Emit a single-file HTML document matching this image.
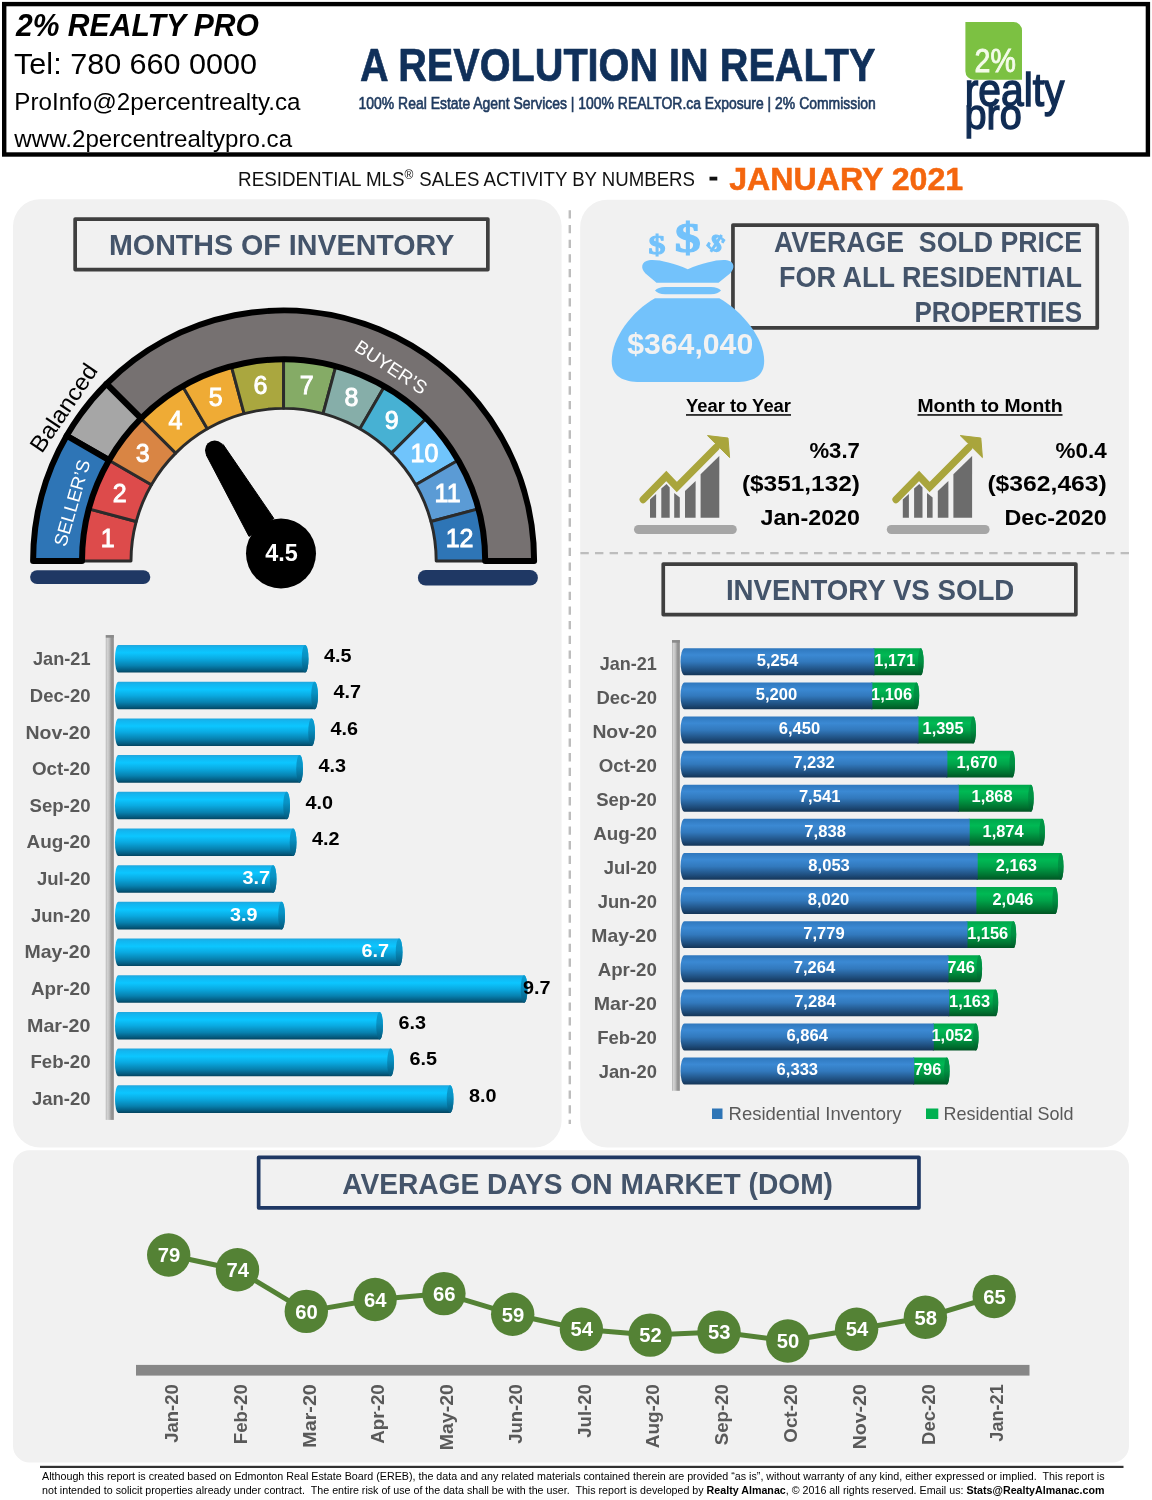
<!DOCTYPE html>
<html lang="en"><head><meta charset="utf-8">
<title>2% Realty Pro - Residential MLS Sales Activity - January 2021</title>
<style>
html,body{margin:0;padding:0;background:#fff}
#page{position:relative;width:1152px;height:1500px;overflow:hidden;background:#fff}
svg{display:block;will-change:transform;font-family:"Liberation Sans", "DejaVu Sans", sans-serif}
text{white-space:pre}
</style></head><body>
<div id="page">
<svg width="1152" height="1500" viewBox="0 0 1152 1500" role="img" aria-label="Residential MLS sales activity infographic">
<defs>
<linearGradient id="gCy" x1="0" y1="0" x2="0" y2="1"><stop offset="0" stop-color="#22a6dc"/><stop offset="0.09" stop-color="#12b6f0"/><stop offset="0.28" stop-color="#0cc6ff"/><stop offset="0.5" stop-color="#0aaae1"/><stop offset="0.75" stop-color="#0781af"/><stop offset="0.92" stop-color="#045a7e"/><stop offset="1" stop-color="#03445f"/></linearGradient>
<linearGradient id="gCyCap" x1="0" y1="0" x2="0" y2="1"><stop offset="0" stop-color="#0a9fd4"/><stop offset="0.4" stop-color="#0892c4"/><stop offset="1" stop-color="#04587b"/></linearGradient>
<linearGradient id="gBl" x1="0" y1="0" x2="0" y2="1"><stop offset="0" stop-color="#2f77bd"/><stop offset="0.25" stop-color="#3b89d3"/><stop offset="0.5" stop-color="#3279bd"/><stop offset="0.85" stop-color="#1d4a78"/><stop offset="1" stop-color="#153557"/></linearGradient>
<linearGradient id="gGr" x1="0" y1="0" x2="0" y2="1"><stop offset="0" stop-color="#00a64b"/><stop offset="0.25" stop-color="#00b954"/><stop offset="0.5" stop-color="#00a349"/><stop offset="0.85" stop-color="#00702f"/><stop offset="1" stop-color="#005423"/></linearGradient>
<linearGradient id="gGrCap" x1="0" y1="0" x2="0" y2="1"><stop offset="0" stop-color="#009a48"/><stop offset="0.5" stop-color="#008f42"/><stop offset="1" stop-color="#005a28"/></linearGradient>
<linearGradient id="gAx" x1="0" y1="0" x2="1" y2="0"><stop offset="0" stop-color="#a6a6a6"/><stop offset="0.14" stop-color="#d6d6d6"/><stop offset="0.42" stop-color="#c2c2c2"/><stop offset="0.68" stop-color="#969696"/><stop offset="1" stop-color="#8a8a8a"/></linearGradient>
</defs>
<rect x="4.2" y="4.1" width="1143.7" height="150.4" fill="#fff" stroke="#000" stroke-width="4.4"/>
<text x="16.00" y="36.10" font-size="30.5" fill="#000" font-weight="bold" textLength="243.00" lengthAdjust="spacingAndGlyphs" style="font-style:italic">2% REALTY PRO</text>
<text x="14.10" y="73.70" font-size="29" fill="#000" textLength="243.00" lengthAdjust="spacingAndGlyphs">Tel: 780 660 0000</text>
<text x="14.30" y="110.00" font-size="23.9" fill="#000" textLength="286.20" lengthAdjust="spacingAndGlyphs">ProInfo@2percentrealty.ca</text>
<text x="14.30" y="147.10" font-size="23.9" fill="#000" textLength="277.80" lengthAdjust="spacingAndGlyphs">www.2percentrealtypro.ca</text>
<text x="360.00" y="80.70" font-size="45.3" fill="#10305a" font-weight="bold" textLength="515.40" lengthAdjust="spacingAndGlyphs" stroke="#10305a" stroke-width="0.7" stroke-linejoin="round">A REVOLUTION IN REALTY</text>
<text x="358.60" y="109.20" font-size="16.6" fill="#1f3a5f" textLength="517.20" lengthAdjust="spacingAndGlyphs" stroke="#1f3a5f" stroke-width="0.65">100% Real Estate Agent Services | 100% REALTOR.ca Exposure | 2% Commission</text>
<path d="M965.4,22 H1013.5 A8.5,8.5 0 0 1 1022,30.5 V79.7 H973.9 A8.5,8.5 0 0 1 965.4,71.2 Z" fill="#7cc142"/>
<text x="974.50" y="71.80" font-size="32.5" fill="#f4fbe9" textLength="41.30" lengthAdjust="spacingAndGlyphs" stroke="#f4fbe9" stroke-width="0.9">2%</text>
<text transform="translate(964.8,106.4) scale(1,1.14)" font-size="40" fill="#102c54" stroke="#102c54" stroke-width="1.25" textLength="99.6" lengthAdjust="spacingAndGlyphs">realty</text>
<text transform="translate(964.6,129.2) scale(1,1.07)" font-size="39" fill="#102c54" stroke="#102c54" stroke-width="1.25" textLength="57.2" lengthAdjust="spacingAndGlyphs">pro</text>
<text x="238.10" y="185.60" font-size="20.6" fill="#111" textLength="166.50" lengthAdjust="spacingAndGlyphs">RESIDENTIAL MLS</text>
<text x="404.60" y="178.60" font-size="12" fill="#111">®</text>
<text x="419.30" y="185.60" font-size="20.6" fill="#111" textLength="275.70" lengthAdjust="spacingAndGlyphs">SALES ACTIVITY BY NUMBERS</text>
<rect x="709.5" y="176.7" width="7.8" height="3.8" fill="#111"/>
<text x="729.20" y="189.70" font-size="30.8" fill="#f4660e" font-weight="bold" textLength="234.00" lengthAdjust="spacingAndGlyphs" stroke="#f4660e" stroke-width="0.5">JANUARY 2021</text>
<rect x="13" y="199.3" width="548.6" height="948.2" rx="27" ry="27" fill="#f1f1f1"/>
<rect x="580.2" y="199.8" width="548.7" height="947.7" rx="27" ry="27" fill="#f1f1f1"/>
<rect x="13" y="1150.3" width="1116" height="312.1" rx="16.5" ry="16.5" fill="#f1f1f1"/>
<line x1="569.8" y1="210.3" x2="569.8" y2="1124" stroke="#bdbdbd" stroke-width="2.4" stroke-dasharray="8.3 6.37"/>
<line x1="580.4" y1="553.2" x2="1129" y2="553.2" stroke="#bdbdbd" stroke-width="2.3" stroke-dasharray="8.4 6.2"/>
<rect x="75.15" y="219.05" width="412.7" height="50.5" fill="none" stroke="#3f3f3f" stroke-width="3.7" stroke-linejoin="round"/>
<text x="109.00" y="254.90" font-size="29.2" fill="#44546a" font-weight="bold" textLength="345.30" lengthAdjust="spacingAndGlyphs">MONTHS OF INVENTORY</text>
<rect x="732.95" y="225.05" width="364.3" height="102.9" fill="none" stroke="#3f3f3f" stroke-width="3.7" stroke-linejoin="round"/>
<text x="1082.00" y="252.10" font-size="28.8" fill="#44546a" font-weight="bold" text-anchor="end" textLength="308.00" lengthAdjust="spacingAndGlyphs">AVERAGE  SOLD PRICE</text>
<text x="1082.00" y="286.80" font-size="28.7" fill="#44546a" font-weight="bold" text-anchor="end" textLength="303.00" lengthAdjust="spacingAndGlyphs">FOR ALL RESIDENTIAL</text>
<text x="1082.00" y="321.70" font-size="28.7" fill="#44546a" font-weight="bold" text-anchor="end" textLength="167.60" lengthAdjust="spacingAndGlyphs">PROPERTIES</text>
<rect x="663.25" y="564.05" width="412.6" height="50.5" fill="none" stroke="#3f3f3f" stroke-width="3.7" stroke-linejoin="round"/>
<text x="725.90" y="599.90" font-size="29.2" fill="#44546a" font-weight="bold" textLength="288.40" lengthAdjust="spacingAndGlyphs">INVENTORY VS SOLD</text>
<rect x="258.65" y="1157.35" width="660.3" height="50.5" fill="none" stroke="#1f3864" stroke-width="3.7" stroke-linejoin="round"/>
<text x="342.20" y="1193.80" font-size="29.2" fill="#44546a" font-weight="bold" textLength="490.80" lengthAdjust="spacingAndGlyphs">AVERAGE DAYS ON MARKET (DOM)</text>
<g stroke="#2b2b2b" stroke-width="2.9" stroke-linejoin="round">
<path d="M82.00,561.00 A201.6,201.6 0 0 1 88.87,508.82 L136.20,521.50 A152.6,152.6 0 0 0 131.00,561.00 Z" fill="#dd4b4b"/>
<path d="M88.87,508.82 A201.6,201.6 0 0 1 109.01,460.20 L151.44,484.70 A152.6,152.6 0 0 0 136.20,521.50 Z" fill="#dd4b4b"/>
<path d="M109.01,460.20 A201.6,201.6 0 0 1 141.05,418.45 L175.70,453.10 A152.6,152.6 0 0 0 151.44,484.70 Z" fill="#d98544"/>
<path d="M141.05,418.45 A201.6,201.6 0 0 1 182.80,386.41 L207.30,428.84 A152.6,152.6 0 0 0 175.70,453.10 Z" fill="#efab35"/>
<path d="M182.80,386.41 A201.6,201.6 0 0 1 231.42,366.27 L244.10,413.60 A152.6,152.6 0 0 0 207.30,428.84 Z" fill="#efab35"/>
<path d="M231.42,366.27 A201.6,201.6 0 0 1 283.60,359.40 L283.60,408.40 A152.6,152.6 0 0 0 244.10,413.60 Z" fill="#aaa73f"/>
<path d="M283.60,359.40 A201.6,201.6 0 0 1 335.78,366.27 L323.10,413.60 A152.6,152.6 0 0 0 283.60,408.40 Z" fill="#85ab66"/>
<path d="M335.78,366.27 A201.6,201.6 0 0 1 384.40,386.41 L359.90,428.84 A152.6,152.6 0 0 0 323.10,413.60 Z" fill="#86aea9"/>
<path d="M384.40,386.41 A201.6,201.6 0 0 1 426.15,418.45 L391.50,453.10 A152.6,152.6 0 0 0 359.90,428.84 Z" fill="#47b1d3"/>
<path d="M426.15,418.45 A201.6,201.6 0 0 1 458.19,460.20 L415.76,484.70 A152.6,152.6 0 0 0 391.50,453.10 Z" fill="#70c4fb"/>
<path d="M458.19,460.20 A201.6,201.6 0 0 1 478.33,508.82 L431.00,521.50 A152.6,152.6 0 0 0 415.76,484.70 Z" fill="#5b9bd5"/>
<path d="M478.33,508.82 A201.6,201.6 0 0 1 485.20,561.00 L436.20,561.00 A152.6,152.6 0 0 0 431.00,521.50 Z" fill="#2e75b6"/>
</g>
<g stroke="#000" stroke-width="6" stroke-linejoin="round">
<path d="M106.47,383.87 A250.5,250.5 0 0 1 534.10,561.00 L485.20,561.00 A201.6,201.6 0 0 0 141.05,418.45 Z" fill="#767171"/>
<path d="M66.66,435.75 A250.5,250.5 0 0 1 106.47,383.87 L141.05,418.45 A201.6,201.6 0 0 0 109.01,460.20 Z" fill="#a6a6a6"/>
<path d="M33.10,561.00 A250.5,250.5 0 0 1 66.66,435.75 L109.01,460.20 A201.6,201.6 0 0 0 82.00,561.00 Z" fill="#2e75b6"/>
</g>
<g font-size="25" fill="#fff" stroke="#fff" stroke-width="0.9" text-anchor="middle">
<text x="107.6" y="547.0">1</text>
<text x="119.6" y="502.3">2</text>
<text x="142.8" y="462.1">3</text>
<text x="175.5" y="429.4">4</text>
<text x="215.7" y="406.2">5</text>
<text x="260.4" y="394.2">6</text>
<text x="306.8" y="394.2">7</text>
<text x="351.5" y="406.2">8</text>
<text x="391.7" y="429.4">9</text>
<text x="424.4" y="462.1">10</text>
<text x="447.6" y="502.3">11</text>
<text x="459.6" y="547.0">12</text>
</g>
<text transform="translate(78.2,504.8) rotate(-73.9)" font-size="18.4" fill="#fff" text-anchor="middle" textLength="89" lengthAdjust="spacingAndGlyphs">SELLER’S</text>
<text transform="translate(70.2,412.3) rotate(-55.8)" font-size="23.3" fill="#000" text-anchor="middle" textLength="101.5" lengthAdjust="spacingAndGlyphs">Balanced</text>
<text transform="translate(387.6,372.6) rotate(33.3)" font-size="18.8" fill="#fff" text-anchor="middle" textLength="82" lengthAdjust="spacingAndGlyphs">BUYER’S</text>
<path d="M206.3,454.9 L223.2,444.6 L273.8,518.4 L249.0,536.4 Z" fill="#000" stroke="#000" stroke-width="1" stroke-linejoin="round"/>
<circle cx="214.7" cy="450.2" r="9.7" fill="#000"/>
<circle cx="281" cy="553.5" r="35" fill="#000"/>
<text x="281.50" y="560.80" font-size="24.4" fill="#fff" font-weight="bold" text-anchor="middle" textLength="32.60" lengthAdjust="spacingAndGlyphs">4.5</text>
<rect x="30.1" y="570.2" width="120.2" height="13.8" rx="6.9" fill="#1f3864"/>
<rect x="417.9" y="570" width="120" height="15.6" rx="7.8" fill="#1f3864"/>
<g fill="#73c2fb">
<path d="M655,298.2 L719.3,298.2 C742,311 764.2,338 764.2,361 C764.2,377 752,382 736,382 L640,382 C624,382 611.7,377 611.7,361 C611.7,338 632,311 655,298.2 Z"/>
<path d="M655,290.6 Q658,287 665,287 L711,287 Q718,287 721,290.6 Q718,294.3 711,294.3 L665,294.3 Q658,294.3 655,290.6 Z"/>
<path d="M687.8,269.2 C672,262.5 657,259 649,260.3 C641.5,261.6 640,268 645.5,273.5 L656.5,282.7 L718.5,282.7 L730,273.5 C735.5,268 734.4,261.6 727,260.3 C719,259 704,262.5 687.8,269.2 Z"/>
</g>
<g fill="#73c2fb" stroke="#73c2fb" font-weight="bold" text-anchor="middle" font-family='"Liberation Serif", "DejaVu Serif", serif'>
<text x="687.7" y="252.4" font-size="43" stroke-width="1.2" textLength="26" lengthAdjust="spacingAndGlyphs">$</text>
<text x="657.1" y="254.4" font-size="27" stroke-width="1.0" textLength="17" lengthAdjust="spacingAndGlyphs">$</text>
<text transform="translate(711.9,249.6) rotate(33)" font-size="23.5" stroke-width="1.0" textLength="15.5" lengthAdjust="spacingAndGlyphs">$</text>
</g>
<text x="690.20" y="354.10" font-size="28.6" fill="#f2f2f2" font-weight="bold" text-anchor="middle" textLength="126.00" lengthAdjust="spacingAndGlyphs">$364,040</text>
<g transform="translate(0,0)">
<g fill="#6c6c6c">
<path d="M650,499.5 L656.1,494 V517.7 H650 Z"/>
<path d="M661.3,488.5 L666.5,484 L669.7,487.5 V517.7 H661.3 Z"/>
<path d="M674.2,493 L679.8,497.5 V517.7 H674.2 Z"/>
<path d="M685,491.1 L695.6,480.9 V517.7 H685 Z"/>
<path d="M700.6,474.2 L719.3,456.1 V517.7 H700.6 Z"/>
</g>
<path d="M643.2,499.6 L666.3,476 L676.8,487 L716,447.5" fill="none" stroke="#a9a53c" stroke-width="7.2" stroke-linejoin="miter" stroke-linecap="round"/>
<path d="M707.5,435.6 L728,438 L729.6,457.6 Z" fill="#a9a53c" stroke="#a9a53c" stroke-width="1" stroke-linejoin="round"/>
<rect x="634" y="525" width="102.8" height="9" rx="4.5" fill="#a6a6a6"/>
</g>
<g transform="translate(252.8,0)">
<g fill="#6c6c6c">
<path d="M650,499.5 L656.1,494 V517.7 H650 Z"/>
<path d="M661.3,488.5 L666.5,484 L669.7,487.5 V517.7 H661.3 Z"/>
<path d="M674.2,493 L679.8,497.5 V517.7 H674.2 Z"/>
<path d="M685,491.1 L695.6,480.9 V517.7 H685 Z"/>
<path d="M700.6,474.2 L719.3,456.1 V517.7 H700.6 Z"/>
</g>
<path d="M643.2,499.6 L666.3,476 L676.8,487 L716,447.5" fill="none" stroke="#a9a53c" stroke-width="7.2" stroke-linejoin="miter" stroke-linecap="round"/>
<path d="M707.5,435.6 L728,438 L729.6,457.6 Z" fill="#a9a53c" stroke="#a9a53c" stroke-width="1" stroke-linejoin="round"/>
<rect x="634" y="525" width="102.8" height="9" rx="4.5" fill="#a6a6a6"/>
</g>
<text x="686.00" y="411.50" font-size="18" fill="#000" font-weight="bold" textLength="105.00" lengthAdjust="spacingAndGlyphs">Year to Year</text>
<rect x="686" y="414.2" width="105" height="1.5" fill="#000"/>
<text x="917.50" y="411.50" font-size="18" fill="#000" font-weight="bold" textLength="145.00" lengthAdjust="spacingAndGlyphs">Month to Month</text>
<rect x="917.5" y="414.2" width="145" height="1.5" fill="#000"/>
<text x="859.90" y="457.70" font-size="21.6" fill="#000" font-weight="bold" text-anchor="end" textLength="50.50" lengthAdjust="spacingAndGlyphs">%3.7</text>
<text x="859.90" y="491.20" font-size="21.6" fill="#000" font-weight="bold" text-anchor="end" textLength="118.00" lengthAdjust="spacingAndGlyphs">($351,132)</text>
<text x="859.90" y="525.00" font-size="21.6" fill="#000" font-weight="bold" text-anchor="end" textLength="99.40" lengthAdjust="spacingAndGlyphs">Jan-2020</text>
<text x="1106.80" y="457.70" font-size="21.6" fill="#000" font-weight="bold" text-anchor="end" textLength="51.30" lengthAdjust="spacingAndGlyphs">%0.4</text>
<text x="1106.80" y="491.20" font-size="21.6" fill="#000" font-weight="bold" text-anchor="end" textLength="119.40" lengthAdjust="spacingAndGlyphs">($362,463)</text>
<text x="1106.80" y="525.00" font-size="21.6" fill="#000" font-weight="bold" text-anchor="end" textLength="102.40" lengthAdjust="spacingAndGlyphs">Dec-2020</text>
<rect x="105.8" y="635.1" width="8" height="484.8" fill="url(#gAx)"/>
<rect x="105.8" y="635.1" width="8" height="2.6" fill="#8a8a8a"/>
<path d="M118.4,645.00 H305.1 A3.4,13.8 0 0 1 305.1,672.60 H118.4 A3.4,13.8 0 0 1 118.4,645.00 Z" fill="url(#gCy)"/>
<ellipse cx="305.1" cy="658.80" rx="3.4" ry="13.8" fill="url(#gCyCap)"/>
<text x="90.50" y="665.30" font-size="18.6" fill="#595959" font-weight="bold" text-anchor="end" textLength="57.50" lengthAdjust="spacingAndGlyphs">Jan-21</text>
<text x="324.00" y="661.80" font-size="19" fill="#000" font-weight="bold" textLength="27.50" lengthAdjust="spacingAndGlyphs">4.5</text>
<path d="M118.4,681.69 H314.6 A3.4,13.8 0 0 1 314.6,709.29 H118.4 A3.4,13.8 0 0 1 118.4,681.69 Z" fill="url(#gCy)"/>
<ellipse cx="314.6" cy="695.49" rx="3.4" ry="13.8" fill="url(#gCyCap)"/>
<text x="90.50" y="701.92" font-size="18.6" fill="#595959" font-weight="bold" text-anchor="end" textLength="60.70" lengthAdjust="spacingAndGlyphs">Dec-20</text>
<text x="333.50" y="698.49" font-size="19" fill="#000" font-weight="bold" textLength="27.50" lengthAdjust="spacingAndGlyphs">4.7</text>
<path d="M118.4,718.38 H311.6 A3.4,13.8 0 0 1 311.6,745.98 H118.4 A3.4,13.8 0 0 1 118.4,718.38 Z" fill="url(#gCy)"/>
<ellipse cx="311.6" cy="732.18" rx="3.4" ry="13.8" fill="url(#gCyCap)"/>
<text x="90.50" y="738.54" font-size="18.6" fill="#595959" font-weight="bold" text-anchor="end" textLength="65.00" lengthAdjust="spacingAndGlyphs">Nov-20</text>
<text x="330.50" y="735.18" font-size="19" fill="#000" font-weight="bold" textLength="27.50" lengthAdjust="spacingAndGlyphs">4.6</text>
<path d="M118.4,755.07 H299.6 A3.4,13.8 0 0 1 299.6,782.67 H118.4 A3.4,13.8 0 0 1 118.4,755.07 Z" fill="url(#gCy)"/>
<ellipse cx="299.6" cy="768.87" rx="3.4" ry="13.8" fill="url(#gCyCap)"/>
<text x="90.50" y="775.16" font-size="18.6" fill="#595959" font-weight="bold" text-anchor="end" textLength="58.50" lengthAdjust="spacingAndGlyphs">Oct-20</text>
<text x="318.50" y="771.87" font-size="19" fill="#000" font-weight="bold" textLength="27.50" lengthAdjust="spacingAndGlyphs">4.3</text>
<path d="M118.4,791.76 H286.6 A3.4,13.8 0 0 1 286.6,819.36 H118.4 A3.4,13.8 0 0 1 118.4,791.76 Z" fill="url(#gCy)"/>
<ellipse cx="286.6" cy="805.56" rx="3.4" ry="13.8" fill="url(#gCyCap)"/>
<text x="90.50" y="811.78" font-size="18.6" fill="#595959" font-weight="bold" text-anchor="end" textLength="61.00" lengthAdjust="spacingAndGlyphs">Sep-20</text>
<text x="305.50" y="808.56" font-size="19" fill="#000" font-weight="bold" textLength="27.50" lengthAdjust="spacingAndGlyphs">4.0</text>
<path d="M118.4,828.45 H293.1 A3.4,13.8 0 0 1 293.1,856.05 H118.4 A3.4,13.8 0 0 1 118.4,828.45 Z" fill="url(#gCy)"/>
<ellipse cx="293.1" cy="842.25" rx="3.4" ry="13.8" fill="url(#gCyCap)"/>
<text x="90.50" y="848.40" font-size="18.6" fill="#595959" font-weight="bold" text-anchor="end" textLength="64.00" lengthAdjust="spacingAndGlyphs">Aug-20</text>
<text x="312.00" y="845.25" font-size="19" fill="#000" font-weight="bold" textLength="27.50" lengthAdjust="spacingAndGlyphs">4.2</text>
<path d="M118.4,865.14 H273.1 A3.4,13.8 0 0 1 273.1,892.74 H118.4 A3.4,13.8 0 0 1 118.4,865.14 Z" fill="url(#gCy)"/>
<ellipse cx="273.1" cy="878.94" rx="3.4" ry="13.8" fill="url(#gCyCap)"/>
<text x="90.50" y="885.02" font-size="18.6" fill="#595959" font-weight="bold" text-anchor="end" textLength="53.50" lengthAdjust="spacingAndGlyphs">Jul-20</text>
<text x="270.00" y="884.04" font-size="19" fill="#fff" font-weight="bold" text-anchor="end" textLength="27.50" lengthAdjust="spacingAndGlyphs">3.7</text>
<path d="M118.4,901.83 H281.6 A3.4,13.8 0 0 1 281.6,929.43 H118.4 A3.4,13.8 0 0 1 118.4,901.83 Z" fill="url(#gCy)"/>
<ellipse cx="281.6" cy="915.63" rx="3.4" ry="13.8" fill="url(#gCyCap)"/>
<text x="90.50" y="921.64" font-size="18.6" fill="#595959" font-weight="bold" text-anchor="end" textLength="59.50" lengthAdjust="spacingAndGlyphs">Jun-20</text>
<text x="257.50" y="920.73" font-size="19" fill="#fff" font-weight="bold" text-anchor="end" textLength="27.50" lengthAdjust="spacingAndGlyphs">3.9</text>
<path d="M118.4,938.52 H399.1 A3.4,13.8 0 0 1 399.1,966.12 H118.4 A3.4,13.8 0 0 1 118.4,938.52 Z" fill="url(#gCy)"/>
<ellipse cx="399.1" cy="952.32" rx="3.4" ry="13.8" fill="url(#gCyCap)"/>
<text x="90.50" y="958.26" font-size="18.6" fill="#595959" font-weight="bold" text-anchor="end" textLength="66.00" lengthAdjust="spacingAndGlyphs">May-20</text>
<text x="389.00" y="957.42" font-size="19" fill="#fff" font-weight="bold" text-anchor="end" textLength="27.50" lengthAdjust="spacingAndGlyphs">6.7</text>
<path d="M118.4,975.21 H524.1 A3.4,13.8 0 0 1 524.1,1002.81 H118.4 A3.4,13.8 0 0 1 118.4,975.21 Z" fill="url(#gCy)"/>
<ellipse cx="524.1" cy="989.01" rx="3.4" ry="13.8" fill="url(#gCyCap)"/>
<text x="90.50" y="994.88" font-size="18.6" fill="#595959" font-weight="bold" text-anchor="end" textLength="59.50" lengthAdjust="spacingAndGlyphs">Apr-20</text>
<text x="523.00" y="994.11" font-size="19" fill="#000" font-weight="bold" textLength="27.50" lengthAdjust="spacingAndGlyphs">9.7</text>
<path d="M118.4,1011.90 H379.6 A3.4,13.8 0 0 1 379.6,1039.50 H118.4 A3.4,13.8 0 0 1 118.4,1011.90 Z" fill="url(#gCy)"/>
<ellipse cx="379.6" cy="1025.70" rx="3.4" ry="13.8" fill="url(#gCyCap)"/>
<text x="90.50" y="1031.50" font-size="18.6" fill="#595959" font-weight="bold" text-anchor="end" textLength="63.50" lengthAdjust="spacingAndGlyphs">Mar-20</text>
<text x="398.50" y="1028.70" font-size="19" fill="#000" font-weight="bold" textLength="27.50" lengthAdjust="spacingAndGlyphs">6.3</text>
<path d="M118.4,1048.59 H390.6 A3.4,13.8 0 0 1 390.6,1076.19 H118.4 A3.4,13.8 0 0 1 118.4,1048.59 Z" fill="url(#gCy)"/>
<ellipse cx="390.6" cy="1062.39" rx="3.4" ry="13.8" fill="url(#gCyCap)"/>
<text x="90.50" y="1068.12" font-size="18.6" fill="#595959" font-weight="bold" text-anchor="end" textLength="60.00" lengthAdjust="spacingAndGlyphs">Feb-20</text>
<text x="409.50" y="1065.39" font-size="19" fill="#000" font-weight="bold" textLength="27.50" lengthAdjust="spacingAndGlyphs">6.5</text>
<path d="M118.4,1085.28 H450.1 A3.4,13.8 0 0 1 450.1,1112.88 H118.4 A3.4,13.8 0 0 1 118.4,1085.28 Z" fill="url(#gCy)"/>
<ellipse cx="450.1" cy="1099.08" rx="3.4" ry="13.8" fill="url(#gCyCap)"/>
<text x="90.50" y="1104.74" font-size="18.6" fill="#595959" font-weight="bold" text-anchor="end" textLength="58.50" lengthAdjust="spacingAndGlyphs">Jan-20</text>
<text x="469.00" y="1102.08" font-size="19" fill="#000" font-weight="bold" textLength="27.50" lengthAdjust="spacingAndGlyphs">8.0</text>
<rect x="672" y="640.1" width="7.8" height="450.7" fill="url(#gAx)"/>
<rect x="672" y="640.1" width="7.8" height="2.6" fill="#8a8a8a"/>
<path d="M873.4,648.30 H920.8 A2.8,13.45 0 0 1 920.8,675.20 H873.4 Z" fill="url(#gGr)"/>
<ellipse cx="920.8" cy="661.75" rx="2.8" ry="13.45" fill="url(#gGrCap)"/>
<path d="M684.5,648.30 H874.4 V675.20 H684.5 A4,13.45 0 0 1 684.5,648.30 Z" fill="url(#gBl)"/>
<text x="656.90" y="669.75" font-size="18.4" fill="#595959" font-weight="bold" text-anchor="end" textLength="57.20" lengthAdjust="spacingAndGlyphs">Jan-21</text>
<text x="777.44" y="666.05" font-size="16.8" fill="#fff" font-weight="bold" text-anchor="middle" textLength="41.50" lengthAdjust="spacingAndGlyphs">5,254</text>
<text x="894.78" y="666.05" font-size="16.8" fill="#fff" font-weight="bold" text-anchor="middle" textLength="41.00" lengthAdjust="spacingAndGlyphs">1,171</text>
<path d="M871.4,682.41 H916.4 A2.8,13.45 0 0 1 916.4,709.31 H871.4 Z" fill="url(#gGr)"/>
<ellipse cx="916.4" cy="695.86" rx="2.8" ry="13.45" fill="url(#gGrCap)"/>
<path d="M684.5,682.41 H872.4 V709.31 H684.5 A4,13.45 0 0 1 684.5,682.41 Z" fill="url(#gBl)"/>
<text x="656.90" y="703.78" font-size="18.4" fill="#595959" font-weight="bold" text-anchor="end" textLength="60.40" lengthAdjust="spacingAndGlyphs">Dec-20</text>
<text x="776.44" y="700.16" font-size="16.8" fill="#fff" font-weight="bold" text-anchor="middle" textLength="41.50" lengthAdjust="spacingAndGlyphs">5,200</text>
<text x="891.59" y="700.16" font-size="16.8" fill="#fff" font-weight="bold" text-anchor="middle" textLength="41.00" lengthAdjust="spacingAndGlyphs">1,106</text>
<path d="M917.5,716.52 H973.2 A2.8,13.45 0 0 1 973.2,743.42 H917.5 Z" fill="url(#gGr)"/>
<ellipse cx="973.2" cy="729.97" rx="2.8" ry="13.45" fill="url(#gGrCap)"/>
<path d="M684.5,716.52 H918.5 V743.42 H684.5 A4,13.45 0 0 1 684.5,716.52 Z" fill="url(#gBl)"/>
<text x="656.90" y="737.81" font-size="18.4" fill="#595959" font-weight="bold" text-anchor="end" textLength="64.50" lengthAdjust="spacingAndGlyphs">Nov-20</text>
<text x="799.50" y="734.27" font-size="16.8" fill="#fff" font-weight="bold" text-anchor="middle" textLength="41.50" lengthAdjust="spacingAndGlyphs">6,450</text>
<text x="943.04" y="734.27" font-size="16.8" fill="#fff" font-weight="bold" text-anchor="middle" textLength="41.00" lengthAdjust="spacingAndGlyphs">1,395</text>
<path d="M946.4,750.63 H1012.2 A2.8,13.45 0 0 1 1012.2,777.53 H946.4 Z" fill="url(#gGr)"/>
<ellipse cx="1012.2" cy="764.08" rx="2.8" ry="13.45" fill="url(#gGrCap)"/>
<path d="M684.5,750.63 H947.4 V777.53 H684.5 A4,13.45 0 0 1 684.5,750.63 Z" fill="url(#gBl)"/>
<text x="656.90" y="771.84" font-size="18.4" fill="#595959" font-weight="bold" text-anchor="end" textLength="58.20" lengthAdjust="spacingAndGlyphs">Oct-20</text>
<text x="813.93" y="768.38" font-size="16.8" fill="#fff" font-weight="bold" text-anchor="middle" textLength="41.50" lengthAdjust="spacingAndGlyphs">7,232</text>
<text x="976.97" y="768.38" font-size="16.8" fill="#fff" font-weight="bold" text-anchor="middle" textLength="41.00" lengthAdjust="spacingAndGlyphs">1,670</text>
<path d="M957.8,784.74 H1030.9 A2.8,13.45 0 0 1 1030.9,811.64 H957.8 Z" fill="url(#gGr)"/>
<ellipse cx="1030.9" cy="798.19" rx="2.8" ry="13.45" fill="url(#gGrCap)"/>
<path d="M684.5,784.74 H958.8 V811.64 H684.5 A4,13.45 0 0 1 684.5,784.74 Z" fill="url(#gBl)"/>
<text x="656.90" y="805.87" font-size="18.4" fill="#595959" font-weight="bold" text-anchor="end" textLength="60.70" lengthAdjust="spacingAndGlyphs">Sep-20</text>
<text x="819.63" y="802.49" font-size="16.8" fill="#fff" font-weight="bold" text-anchor="middle" textLength="41.50" lengthAdjust="spacingAndGlyphs">7,541</text>
<text x="992.03" y="802.49" font-size="16.8" fill="#fff" font-weight="bold" text-anchor="middle" textLength="41.00" lengthAdjust="spacingAndGlyphs">1,868</text>
<path d="M968.7,818.85 H1042.1 A2.8,13.45 0 0 1 1042.1,845.75 H968.7 Z" fill="url(#gGr)"/>
<ellipse cx="1042.1" cy="832.30" rx="2.8" ry="13.45" fill="url(#gGrCap)"/>
<path d="M684.5,818.85 H969.7 V845.75 H684.5 A4,13.45 0 0 1 684.5,818.85 Z" fill="url(#gBl)"/>
<text x="656.90" y="839.90" font-size="18.4" fill="#595959" font-weight="bold" text-anchor="end" textLength="63.60" lengthAdjust="spacingAndGlyphs">Aug-20</text>
<text x="825.11" y="836.60" font-size="16.8" fill="#fff" font-weight="bold" text-anchor="middle" textLength="41.50" lengthAdjust="spacingAndGlyphs">7,838</text>
<text x="1003.10" y="836.60" font-size="16.8" fill="#fff" font-weight="bold" text-anchor="middle" textLength="41.00" lengthAdjust="spacingAndGlyphs">1,874</text>
<path d="M976.7,852.96 H1060.7 A2.8,13.45 0 0 1 1060.7,879.86 H976.7 Z" fill="url(#gGr)"/>
<ellipse cx="1060.7" cy="866.41" rx="2.8" ry="13.45" fill="url(#gGrCap)"/>
<path d="M684.5,852.96 H977.7 V879.86 H684.5 A4,13.45 0 0 1 684.5,852.96 Z" fill="url(#gBl)"/>
<text x="656.90" y="873.93" font-size="18.4" fill="#595959" font-weight="bold" text-anchor="end" textLength="53.20" lengthAdjust="spacingAndGlyphs">Jul-20</text>
<text x="829.08" y="870.71" font-size="16.8" fill="#fff" font-weight="bold" text-anchor="middle" textLength="41.50" lengthAdjust="spacingAndGlyphs">8,053</text>
<text x="1016.36" y="870.71" font-size="16.8" fill="#fff" font-weight="bold" text-anchor="middle" textLength="41.00" lengthAdjust="spacingAndGlyphs">2,163</text>
<path d="M975.4,887.07 H1055.1 A2.8,13.45 0 0 1 1055.1,913.97 H975.4 Z" fill="url(#gGr)"/>
<ellipse cx="1055.1" cy="900.52" rx="2.8" ry="13.45" fill="url(#gGrCap)"/>
<path d="M684.5,887.07 H976.4 V913.97 H684.5 A4,13.45 0 0 1 684.5,887.07 Z" fill="url(#gBl)"/>
<text x="656.90" y="907.96" font-size="18.4" fill="#595959" font-weight="bold" text-anchor="end" textLength="59.20" lengthAdjust="spacingAndGlyphs">Jun-20</text>
<text x="828.47" y="904.82" font-size="16.8" fill="#fff" font-weight="bold" text-anchor="middle" textLength="41.50" lengthAdjust="spacingAndGlyphs">8,020</text>
<text x="1012.99" y="904.82" font-size="16.8" fill="#fff" font-weight="bold" text-anchor="middle" textLength="41.00" lengthAdjust="spacingAndGlyphs">2,046</text>
<path d="M966.5,921.18 H1013.4 A2.8,13.45 0 0 1 1013.4,948.08 H966.5 Z" fill="url(#gGr)"/>
<ellipse cx="1013.4" cy="934.63" rx="2.8" ry="13.45" fill="url(#gGrCap)"/>
<path d="M684.5,921.18 H967.5 V948.08 H684.5 A4,13.45 0 0 1 684.5,921.18 Z" fill="url(#gBl)"/>
<text x="656.90" y="941.99" font-size="18.4" fill="#595959" font-weight="bold" text-anchor="end" textLength="65.60" lengthAdjust="spacingAndGlyphs">May-20</text>
<text x="824.02" y="938.93" font-size="16.8" fill="#fff" font-weight="bold" text-anchor="middle" textLength="41.50" lengthAdjust="spacingAndGlyphs">7,779</text>
<text x="987.67" y="938.93" font-size="16.8" fill="#fff" font-weight="bold" text-anchor="middle" textLength="41.00" lengthAdjust="spacingAndGlyphs">1,156</text>
<path d="M947.5,955.29 H979.3 A2.8,13.45 0 0 1 979.3,982.19 H947.5 Z" fill="url(#gGr)"/>
<ellipse cx="979.3" cy="968.74" rx="2.8" ry="13.45" fill="url(#gGrCap)"/>
<path d="M684.5,955.29 H948.5 V982.19 H684.5 A4,13.45 0 0 1 684.5,955.29 Z" fill="url(#gBl)"/>
<text x="656.90" y="976.02" font-size="18.4" fill="#595959" font-weight="bold" text-anchor="end" textLength="59.20" lengthAdjust="spacingAndGlyphs">Apr-20</text>
<text x="814.52" y="973.04" font-size="16.8" fill="#fff" font-weight="bold" text-anchor="middle" textLength="41.50" lengthAdjust="spacingAndGlyphs">7,264</text>
<text x="961.11" y="973.04" font-size="16.8" fill="#fff" font-weight="bold" text-anchor="middle" textLength="27.50" lengthAdjust="spacingAndGlyphs">746</text>
<path d="M948.3,989.40 H995.4 A2.8,13.45 0 0 1 995.4,1016.30 H948.3 Z" fill="url(#gGr)"/>
<ellipse cx="995.4" cy="1002.85" rx="2.8" ry="13.45" fill="url(#gGrCap)"/>
<path d="M684.5,989.40 H949.3 V1016.30 H684.5 A4,13.45 0 0 1 684.5,989.40 Z" fill="url(#gBl)"/>
<text x="656.90" y="1010.05" font-size="18.4" fill="#595959" font-weight="bold" text-anchor="end" textLength="63.20" lengthAdjust="spacingAndGlyphs">Mar-20</text>
<text x="814.89" y="1007.15" font-size="16.8" fill="#fff" font-weight="bold" text-anchor="middle" textLength="41.50" lengthAdjust="spacingAndGlyphs">7,284</text>
<text x="969.54" y="1007.15" font-size="16.8" fill="#fff" font-weight="bold" text-anchor="middle" textLength="41.00" lengthAdjust="spacingAndGlyphs">1,163</text>
<path d="M932.8,1023.51 H975.8 A2.8,13.45 0 0 1 975.8,1050.41 H932.8 Z" fill="url(#gGr)"/>
<ellipse cx="975.8" cy="1036.96" rx="2.8" ry="13.45" fill="url(#gGrCap)"/>
<path d="M684.5,1023.51 H933.8 V1050.41 H684.5 A4,13.45 0 0 1 684.5,1023.51 Z" fill="url(#gBl)"/>
<text x="656.90" y="1044.08" font-size="18.4" fill="#595959" font-weight="bold" text-anchor="end" textLength="59.70" lengthAdjust="spacingAndGlyphs">Feb-20</text>
<text x="807.14" y="1041.26" font-size="16.8" fill="#fff" font-weight="bold" text-anchor="middle" textLength="41.50" lengthAdjust="spacingAndGlyphs">6,864</text>
<text x="951.99" y="1041.26" font-size="16.8" fill="#fff" font-weight="bold" text-anchor="middle" textLength="41.00" lengthAdjust="spacingAndGlyphs">1,052</text>
<path d="M913.2,1057.62 H946.8 A2.8,13.45 0 0 1 946.8,1084.52 H913.2 Z" fill="url(#gGr)"/>
<ellipse cx="946.8" cy="1071.07" rx="2.8" ry="13.45" fill="url(#gGrCap)"/>
<path d="M684.5,1057.62 H914.2 V1084.52 H684.5 A4,13.45 0 0 1 684.5,1057.62 Z" fill="url(#gBl)"/>
<text x="656.90" y="1078.11" font-size="18.4" fill="#595959" font-weight="bold" text-anchor="end" textLength="58.20" lengthAdjust="spacingAndGlyphs">Jan-20</text>
<text x="797.34" y="1075.37" font-size="16.8" fill="#fff" font-weight="bold" text-anchor="middle" textLength="41.50" lengthAdjust="spacingAndGlyphs">6,333</text>
<text x="927.67" y="1075.37" font-size="16.8" fill="#fff" font-weight="bold" text-anchor="middle" textLength="27.50" lengthAdjust="spacingAndGlyphs">796</text>
<rect x="712" y="1108.5" width="10.5" height="10.5" fill="#2e75b6"/>
<text x="728.50" y="1120.00" font-size="18.4" fill="#595959" textLength="173.00" lengthAdjust="spacingAndGlyphs">Residential Inventory</text>
<rect x="926" y="1108.5" width="12.3" height="10.5" fill="#00b050"/>
<text x="943.50" y="1120.00" font-size="18.4" fill="#595959" textLength="130.00" lengthAdjust="spacingAndGlyphs">Residential Sold</text>
<rect x="136" y="1364.9" width="893.5" height="10.7" fill="#878787"/>
<polyline points="168.7,1255.0 237.5,1269.8 306.3,1311.4 375.1,1299.5 443.9,1293.6 512.7,1314.3 581.4,1329.2 650.2,1335.1 719.0,1332.1 787.8,1341.0 856.6,1329.2 925.4,1317.3 994.2,1296.5" fill="none" stroke="#548235" stroke-width="5" stroke-linejoin="round"/>
<circle cx="168.7" cy="1255.0" r="21.7" fill="#548235"/>
<text x="169.00" y="1262.30" font-size="21" fill="#fff" font-weight="bold" text-anchor="middle" textLength="22.50" lengthAdjust="spacingAndGlyphs">79</text>
<text transform="translate(177.9,1384.2) rotate(-90)" font-size="18.6" font-weight="bold" fill="#595959" text-anchor="end" textLength="58.5" lengthAdjust="spacingAndGlyphs">Jan-20</text>
<circle cx="237.5" cy="1269.8" r="21.7" fill="#548235"/>
<text x="237.79" y="1277.13" font-size="21" fill="#fff" font-weight="bold" text-anchor="middle" textLength="22.50" lengthAdjust="spacingAndGlyphs">74</text>
<text transform="translate(246.7,1384.2) rotate(-90)" font-size="18.6" font-weight="bold" fill="#595959" text-anchor="end" textLength="60.0" lengthAdjust="spacingAndGlyphs">Feb-20</text>
<circle cx="306.3" cy="1311.4" r="21.7" fill="#548235"/>
<text x="306.58" y="1318.65" font-size="21" fill="#fff" font-weight="bold" text-anchor="middle" textLength="22.50" lengthAdjust="spacingAndGlyphs">60</text>
<text transform="translate(315.5,1384.2) rotate(-90)" font-size="18.6" font-weight="bold" fill="#595959" text-anchor="end" textLength="63.5" lengthAdjust="spacingAndGlyphs">Mar-20</text>
<circle cx="375.1" cy="1299.5" r="21.7" fill="#548235"/>
<text x="375.37" y="1306.79" font-size="21" fill="#fff" font-weight="bold" text-anchor="middle" textLength="22.50" lengthAdjust="spacingAndGlyphs">64</text>
<text transform="translate(384.3,1384.2) rotate(-90)" font-size="18.6" font-weight="bold" fill="#595959" text-anchor="end" textLength="59.5" lengthAdjust="spacingAndGlyphs">Apr-20</text>
<circle cx="443.9" cy="1293.6" r="21.7" fill="#548235"/>
<text x="444.16" y="1300.86" font-size="21" fill="#fff" font-weight="bold" text-anchor="middle" textLength="22.50" lengthAdjust="spacingAndGlyphs">66</text>
<text transform="translate(453.1,1384.2) rotate(-90)" font-size="18.6" font-weight="bold" fill="#595959" text-anchor="end" textLength="66.0" lengthAdjust="spacingAndGlyphs">May-20</text>
<circle cx="512.7" cy="1314.3" r="21.7" fill="#548235"/>
<text x="512.95" y="1321.62" font-size="21" fill="#fff" font-weight="bold" text-anchor="middle" textLength="22.50" lengthAdjust="spacingAndGlyphs">59</text>
<text transform="translate(521.9,1384.2) rotate(-90)" font-size="18.6" font-weight="bold" fill="#595959" text-anchor="end" textLength="59.5" lengthAdjust="spacingAndGlyphs">Jun-20</text>
<circle cx="581.4" cy="1329.2" r="21.7" fill="#548235"/>
<text x="581.74" y="1336.45" font-size="21" fill="#fff" font-weight="bold" text-anchor="middle" textLength="22.50" lengthAdjust="spacingAndGlyphs">54</text>
<text transform="translate(590.6,1384.2) rotate(-90)" font-size="18.6" font-weight="bold" fill="#595959" text-anchor="end" textLength="53.5" lengthAdjust="spacingAndGlyphs">Jul-20</text>
<circle cx="650.2" cy="1335.1" r="21.7" fill="#548235"/>
<text x="650.53" y="1342.38" font-size="21" fill="#fff" font-weight="bold" text-anchor="middle" textLength="22.50" lengthAdjust="spacingAndGlyphs">52</text>
<text transform="translate(659.4,1384.2) rotate(-90)" font-size="18.6" font-weight="bold" fill="#595959" text-anchor="end" textLength="64.0" lengthAdjust="spacingAndGlyphs">Aug-20</text>
<circle cx="719.0" cy="1332.1" r="21.7" fill="#548235"/>
<text x="719.32" y="1339.42" font-size="21" fill="#fff" font-weight="bold" text-anchor="middle" textLength="22.50" lengthAdjust="spacingAndGlyphs">53</text>
<text transform="translate(728.2,1384.2) rotate(-90)" font-size="18.6" font-weight="bold" fill="#595959" text-anchor="end" textLength="61.0" lengthAdjust="spacingAndGlyphs">Sep-20</text>
<circle cx="787.8" cy="1341.0" r="21.7" fill="#548235"/>
<text x="788.11" y="1348.31" font-size="21" fill="#fff" font-weight="bold" text-anchor="middle" textLength="22.50" lengthAdjust="spacingAndGlyphs">50</text>
<text transform="translate(797.0,1384.2) rotate(-90)" font-size="18.6" font-weight="bold" fill="#595959" text-anchor="end" textLength="58.5" lengthAdjust="spacingAndGlyphs">Oct-20</text>
<circle cx="856.6" cy="1329.2" r="21.7" fill="#548235"/>
<text x="856.90" y="1336.45" font-size="21" fill="#fff" font-weight="bold" text-anchor="middle" textLength="22.50" lengthAdjust="spacingAndGlyphs">54</text>
<text transform="translate(865.8,1384.2) rotate(-90)" font-size="18.6" font-weight="bold" fill="#595959" text-anchor="end" textLength="65.0" lengthAdjust="spacingAndGlyphs">Nov-20</text>
<circle cx="925.4" cy="1317.3" r="21.7" fill="#548235"/>
<text x="925.69" y="1324.59" font-size="21" fill="#fff" font-weight="bold" text-anchor="middle" textLength="22.50" lengthAdjust="spacingAndGlyphs">58</text>
<text transform="translate(934.6,1384.2) rotate(-90)" font-size="18.6" font-weight="bold" fill="#595959" text-anchor="end" textLength="60.7" lengthAdjust="spacingAndGlyphs">Dec-20</text>
<circle cx="994.2" cy="1296.5" r="21.7" fill="#548235"/>
<text x="994.48" y="1303.82" font-size="21" fill="#fff" font-weight="bold" text-anchor="middle" textLength="22.50" lengthAdjust="spacingAndGlyphs">65</text>
<text transform="translate(1003.4,1384.2) rotate(-90)" font-size="18.6" font-weight="bold" fill="#595959" text-anchor="end" textLength="57.5" lengthAdjust="spacingAndGlyphs">Jan-21</text>
<rect x="40" y="1465.8" width="1083.5" height="2.2" fill="#333"/>
<text x="42" y="1480" font-size="10.3" fill="#000" textLength="1062.5" lengthAdjust="spacingAndGlyphs">Although this report is created based on Edmonton Real Estate Board (EREB), the data and any related materials contained therein are provided “as is”, without warranty of any kind, either expressed or implied.  This report is</text>
<text x="42" y="1493.6" font-size="10.3" fill="#000" textLength="1062.5" lengthAdjust="spacingAndGlyphs">not intended to solicit properties already under contract.  The entire risk of use of the data shall be with the user.  This report is developed by <tspan font-weight="bold">Realty Almanac</tspan>, © 2016 all rights reserved. Email us: <tspan font-weight="bold">Stats@RealtyAlmanac.com</tspan></text>
</svg>
</div>
</body></html>
